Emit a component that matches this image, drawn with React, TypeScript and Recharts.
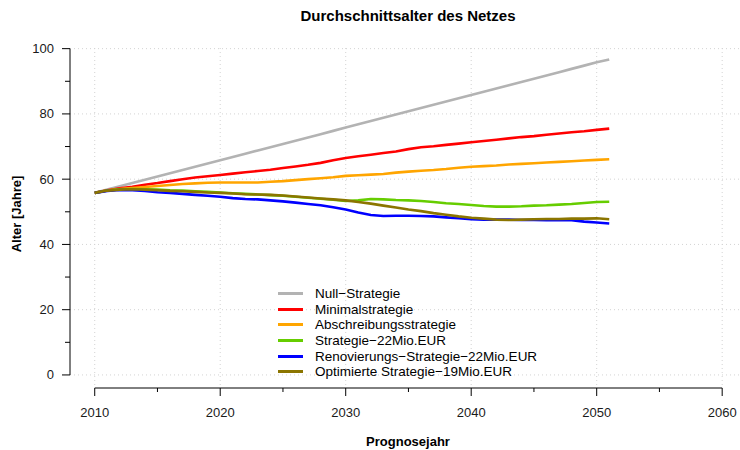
import { LineChart, Line, XAxis, YAxis, CartesianGrid, ReferenceLine, Legend, Label } from 'recharts';

const years = [
  2010, 2011, 2012, 2013, 2014, 2015, 2016, 2017, 2018, 2019,
  2020, 2021, 2022, 2023, 2024, 2025, 2026, 2027, 2028, 2029,
  2030, 2031, 2032, 2033, 2034, 2035, 2036, 2037, 2038, 2039,
  2040, 2041, 2042, 2043, 2044, 2045, 2046, 2047, 2048, 2049,
  2050, 2051,
];

const nullStrategie = [
  55.8, 56.8, 57.8, 58.8, 59.8, 60.8, 61.8, 62.8, 63.8, 64.8,
  65.8, 66.8, 67.8, 68.8, 69.8, 70.8, 71.8, 72.8, 73.8, 74.8,
  75.8, 76.8, 77.8, 78.8, 79.8, 80.8, 81.8, 82.8, 83.8, 84.8,
  85.8, 86.8, 87.8, 88.8, 89.8, 90.8, 91.8, 92.8, 93.8, 94.8,
  95.8, 96.7,
];
const minimal = [
  55.8, 56.6, 57.2, 57.7, 58.3, 58.8, 59.4, 60.0, 60.5, 60.9,
  61.3, 61.7, 62.1, 62.5, 62.9, 63.4, 63.9, 64.4, 65.0, 65.8,
  66.5, 67.0, 67.5, 68.0, 68.5, 69.2, 69.8, 70.1, 70.5, 70.9,
  71.3, 71.7, 72.1, 72.5, 72.9, 73.2, 73.6, 74.0, 74.4, 74.7,
  75.1, 75.5,
];
const abschreibung = [
  55.8, 56.5, 57.0, 57.3, 57.6, 57.9, 58.2, 58.5, 58.7, 58.9,
  59.0, 59.0, 59.0, 59.0, 59.2, 59.4, 59.7, 60.0, 60.3, 60.6,
  61.0, 61.2, 61.4, 61.6, 62.0, 62.3, 62.6, 62.8, 63.1, 63.5,
  63.8, 64.0, 64.2, 64.5, 64.7, 64.9, 65.1, 65.3, 65.5, 65.7,
  65.9, 66.1,
];
const strategie22 = [
  55.8, 56.5, 56.9, 57.0, 56.9, 56.8, 56.6, 56.5, 56.3, 56.1,
  55.9, 55.7, 55.5, 55.3, 55.1, 54.9, 54.6, 54.3, 54.0, 53.7,
  53.3, 53.5, 53.9, 53.8, 53.6, 53.5, 53.3, 53.0, 52.6, 52.4,
  52.1, 51.8, 51.6, 51.6, 51.7, 51.9, 52.0, 52.2, 52.4, 52.7,
  53.0, 53.1,
];
const renovierung22 = [
  55.8, 56.4, 56.7, 56.6, 56.4, 56.0, 55.8, 55.5, 55.2, 54.9,
  54.6, 54.2, 53.9, 53.8, 53.5, 53.2, 52.8, 52.4, 52.0, 51.4,
  50.7, 49.8, 49.0, 48.7, 48.8, 48.8, 48.7, 48.6, 48.3, 48.0,
  47.7, 47.6, 47.6, 47.6, 47.5, 47.5, 47.4, 47.4, 47.4, 47.0,
  46.7, 46.4,
];
const optimiert19 = [
  55.8, 56.5, 56.8, 56.9, 56.8, 56.6, 56.4, 56.3, 56.1, 55.9,
  55.8, 55.6, 55.4, 55.3, 55.2, 55.0, 54.7, 54.4, 54.1, 53.8,
  53.5, 53.0, 52.5, 51.9, 51.3, 50.7, 50.2, 49.6, 49.1, 48.6,
  48.2, 47.9, 47.6, 47.5, 47.6, 47.7, 47.8, 47.8, 47.9, 47.9,
  48.0, 47.7,
];

const seriesNames = [
  'Null\u2212Strategie',
  'Minimalstrategie',
  'Abschreibungsstrategie',
  'Strategie\u221222Mio.EUR',
  'Renovierungs\u2212Strategie\u221222Mio.EUR',
  'Optimierte Strategie\u221219Mio.EUR',
];
const seriesColors = ['#B3B3B3', '#FF0000', '#FFA500', '#66CD00', '#0000FF', '#8B7500'];
const seriesValues = [nullStrategie, minimal, abschreibung, strategie22, renovierung22, optimiert19];

const xTicks = [2010, 2015, 2020, 2025, 2030, 2035, 2040, 2045, 2050, 2055, 2060];
const xGrid = [2010, 2020, 2030, 2040, 2050, 2060];
const yTicks = [0, 10, 20, 30, 40, 50, 60, 70, 80, 90, 100];
const yGrid = [0, 20, 40, 60, 80, 100];

const data = years.map((year, i) => {
  const row: Record<string, number> = { year };
  seriesValues.forEach((vals, s) => {
    row['s' + s] = vals[i];
  });
  return row;
});

const FONT = '"Liberation Sans", Arial, Helvetica, sans-serif';

function XTick({ x, y, payload }: any) {
  const major = payload.value % 10 === 0;
  return (
    <g>
      <line x1={x} x2={x} y1={y} y2={y + (major ? 8 : 4)} stroke="#000" strokeWidth={1} />
      {major && (
        <text x={x} y={y + 29} textAnchor="middle" fontSize={13} fill="#1a1a1a" fontFamily={FONT}>
          {payload.value}
        </text>
      )}
    </g>
  );
}

function YTick({ x, y, payload }: any) {
  const major = payload.value % 20 === 0;
  return (
    <g>
      <line x1={x} x2={x - (major ? 8 : 5)} y1={y} y2={y} stroke="#000" strokeWidth={1} />
      {major && (
        <text x={x - 16} y={y + 4.5} textAnchor="end" fontSize={13} fill="#1a1a1a" fontFamily={FONT}>
          {payload.value}
        </text>
      )}
    </g>
  );
}

function LegendBox() {
  return (
    <div style={{ fontFamily: FONT, fontSize: 13.5, color: '#000' }}>
      {seriesNames.map((name, i) => (
        <div key={name} style={{ display: 'flex', alignItems: 'center', height: 15.6 }}>
          <div style={{ width: 25, height: 3, background: seriesColors[i], marginRight: 12 }} />
          <span style={{ whiteSpace: 'nowrap' }}>{name}</span>
        </div>
      ))}
    </div>
  );
}

export default function App() {
  return (
    <div style={{ position: 'relative', width: 740, height: 450, background: '#fff', fontFamily: FONT }}>
      <style>{'body{margin:0}'}</style>
      <div
        style={{
          position: 'absolute',
          left: 0,
          width: 816,
          top: 7,
          textAlign: 'center',
          fontWeight: 'bold',
          fontSize: 15,
          lineHeight: '18px',
          zIndex: 2,
        }}
      >
        Durchschnittsalter des Netzes
      </div>
      <LineChart width={740} height={450} data={data} margin={{ top: 48, right: 0, bottom: 0, left: 10 }}>
        <CartesianGrid
          stroke="#D3D3D3"
          strokeDasharray="1 3"
          horizontalValues={yGrid}
          verticalValues={xGrid}
        />
        <XAxis
          dataKey="year"
          type="number"
          domain={[2008.03, 2061.42]}
          ticks={xTicks}
          interval={0}
          axisLine={false}
          tickLine={false}
          tickSize={0}
          tickMargin={0}
          height={62}
          tick={<XTick />}
        >
          <Label
            content={() => (
              <text x={408} y={446} textAnchor="middle" fontWeight="bold" fontSize={13} fontFamily={FONT} fill="#000">
                Prognosejahr
              </text>
            )}
          />
        </XAxis>
        <YAxis
          type="number"
          domain={[-4, 100.2]}
          ticks={yTicks}
          interval={0}
          axisLine={false}
          tickLine={false}
          tickSize={0}
          tickMargin={0}
          width={60}
          tick={<YTick />}
        >
          <Label
            content={() => (
              <text
                transform="rotate(-90)"
                x={-214}
                y={21}
                textAnchor="middle"
                fontWeight="bold"
                fontSize={13}
                fontFamily={FONT}
                fill="#000"
              >
                Alter [Jahre]
              </text>
            )}
          />
        </YAxis>
        <ReferenceLine
          segment={[{ x: 2008.03, y: 0 }, { x: 2008.03, y: 100 }]}
          stroke="#000"
          strokeWidth={1}
          ifOverflow="visible"
        />
        <ReferenceLine
          segment={[{ x: 2010, y: -4 }, { x: 2060, y: -4 }]}
          stroke="#000"
          strokeWidth={1}
          ifOverflow="visible"
        />
        {seriesNames.map((name, i) => (
          <Line
            key={name}
            type="linear"
            dataKey={'s' + i}
            name={name}
            stroke={seriesColors[i]}
            strokeWidth={2.6}
            dot={false}
            activeDot={false}
            isAnimationActive={false}
          />
        ))}
        <Legend
          layout="vertical"
          align="center"
          verticalAlign="middle"
          content={() => <LegendBox />}
          wrapperStyle={{ left: 278, top: 286, width: 320 }}
        />
      </LineChart>
    </div>
  );
}
